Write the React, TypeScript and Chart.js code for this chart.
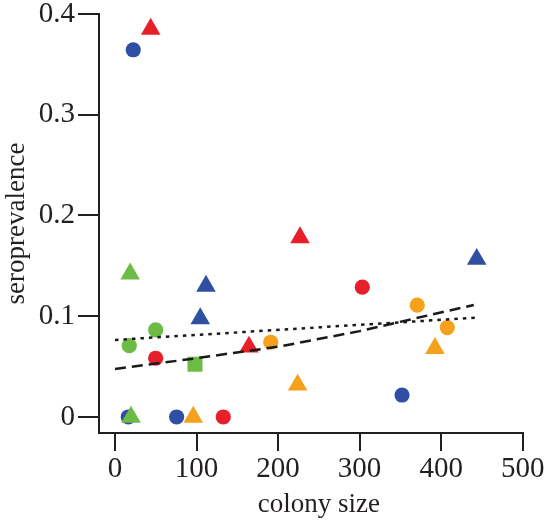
import React, { useEffect, useRef } from "react";
import { Chart, registerables } from "chart.js";

Chart.register(...registerables);

// Tick values / labels
const xTickValues = [0, 100, 200, 300, 400, 500];
const yTickValues = [0, 0.1, 0.2, 0.3, 0.4];
const yTickLabels = ["0", "0.1", "0.2", "0.3", "0.4"];

// Points: [colony size, seroprevalence]
const blueCircles = [[22.4, 0.3645], [16.3, 0], [75.6, 0], [352, 0.0218]];
const blueTriangles = [[111.6, 0.13], [104.6, 0.0976], [443.6, 0.1566]];
const redCircles = [[49.9, 0.0583], [132.8, 0], [303.3, 0.1288]];
const redTriangles = [[43.8, 0.385], [164.3, 0.0695], [226.9, 0.178]];
const greenCircles = [[49.9, 0.0864], [17.5, 0.0708]];
const greenTriangles = [[19.6, 0], [18.6, 0.142]];
const greenSquares = [[98.1, 0.0523]];
const orangeCircles = [[191, 0.0742], [370.7, 0.111], [407.5, 0.0887]];
const orangeTriangles = [[96, 0], [224, 0.0318], [392.4, 0.0682]];

// Fitted lines
const dashedFit = [[0, 0.0477], [100, 0.0583], [145, 0.0636], [200, 0.0697], [300, 0.0852], [440, 0.1112]];
const dottedFit = [[0, 0.0765], [145, 0.0837], [298, 0.0914], [444, 0.0986]];

const BLUE = "#2f4fa2";
const RED = "#e61f2b";
const GREEN = "#6cbb45";
const ORANGE = "#f6a11c";
const INK = "#231f20";
const FONT = '"Liberation Serif", "DejaVu Serif", serif';

const toXY = (arr: number[][]) => arr.map(([x, y]) => ({ x, y }));

export default function App() {
  const ref = useRef<HTMLCanvasElement | null>(null);

  useEffect(() => {
    if (!ref.current) return;
    const pts = (data: number[][], color: string, style: string, radius: number, order: number) => ({
      data: toXY(data),
      backgroundColor: color,
      borderColor: color,
      borderWidth: 0,
      pointStyle: style,
      pointRadius: radius,
      showLine: false,
      order,
    });
    const axisTitles = {
      id: "axisTitles",
      afterDraw(chart: any) {
        const ctx = chart.ctx;
        const xs = chart.scales.x;
        ctx.save();
        ctx.fillStyle = INK;
        ctx.font = `27px ${FONT}`;
        ctx.textAlign = "center";
        ctx.textBaseline = "alphabetic";
        ctx.fillText("colony size", xs.getPixelForValue(250), 512);
        ctx.translate(24, (chart.chartArea.top + chart.chartArea.bottom) / 2);
        ctx.rotate(-Math.PI / 2);
        ctx.fillText("seroprevalence", 0, 0);
        ctx.restore();
      },
    };
    const chart = new Chart(ref.current, {
      type: "scatter",
      data: {
        datasets: [
          {
            data: toXY(dashedFit),
            showLine: true,
            borderColor: "#1a1a1a",
            borderWidth: 2.5,
            borderDash: [11, 6],
            pointRadius: 0,
            fill: false,
            order: 0,
          } as any,
          {
            data: toXY(dottedFit),
            showLine: true,
            borderColor: "#1a1a1a",
            borderWidth: 2.5,
            borderDash: [3.5, 5],
            pointRadius: 0,
            fill: false,
            order: 0,
          } as any,
          pts(blueTriangles, BLUE, "triangle", 11.3, 1),
          pts(redTriangles, RED, "triangle", 11.3, 1),
          pts(greenTriangles, GREEN, "triangle", 11.3, 1),
          pts(orangeTriangles, ORANGE, "triangle", 11.3, 1),
          pts(greenSquares, GREEN, "rect", 10.6, 2),
          pts(blueCircles, BLUE, "circle", 7.6, 3),
          pts(redCircles, RED, "circle", 7.6, 3),
          pts(greenCircles, GREEN, "circle", 7.6, 3),
          pts(orangeCircles, ORANGE, "circle", 7.6, 3),
        ],
      },
      options: {
        animation: false,
        responsive: false,
        devicePixelRatio: 1,
        layout: { padding: { top: 14, right: 21.3, left: 0, bottom: 0 } },
        plugins: { legend: { display: false }, tooltip: { enabled: false }, title: { display: false } },
        scales: {
          x: {
            type: "linear",
            min: -19.6,
            max: 500,
            afterBuildTicks: (s: any) => {
              s.ticks = xTickValues.map((v) => ({ value: v }));
            },
            afterFit: (s: any) => {
              s.height = 90;
              s.paddingLeft = 0;
              s.paddingRight = 0;
            },
            ticks: {
              color: INK,
              font: { family: FONT, size: 29, lineHeight: 1 },
              padding: 4,
              maxRotation: 0,
              autoSkip: false,
              callback: (v: any) => String(v),
            },
            grid: { drawOnChartArea: false, drawTicks: true, tickLength: 18, color: INK, lineWidth: 2 },
            border: { display: true, color: INK, width: 2 },
          },
          y: {
            type: "linear",
            min: -0.0159,
            max: 0.4,
            afterBuildTicks: (s: any) => {
              s.ticks = yTickValues.map((v) => ({ value: v }));
            },
            afterFit: (s: any) => {
              s.width = 99;
              s.paddingTop = 0;
              s.paddingBottom = 0;
            },
            ticks: {
              color: INK,
              font: { family: FONT, size: 29, lineHeight: 1 },
              padding: 3,
              autoSkip: false,
              callback: (v: any) => {
                const i = yTickValues.findIndex((t) => Math.abs(t - v) < 1e-9);
                return i >= 0 ? yTickLabels[i] : "";
              },
            },
            grid: { drawOnChartArea: false, drawTicks: true, tickLength: 21, color: INK, lineWidth: 2 },
            border: { display: true, color: INK, width: 2 },
          },
        },
      },
      plugins: [axisTitles],
    } as any);
    return () => chart.destroy();
  }, []);

  return (
    <div style={{ position: "fixed", left: 0, top: 0, width: 544, height: 523, background: "#fff" }}>
      <canvas ref={ref} width={544} height={523} style={{ display: "block" }} />
    </div>
  );
}
